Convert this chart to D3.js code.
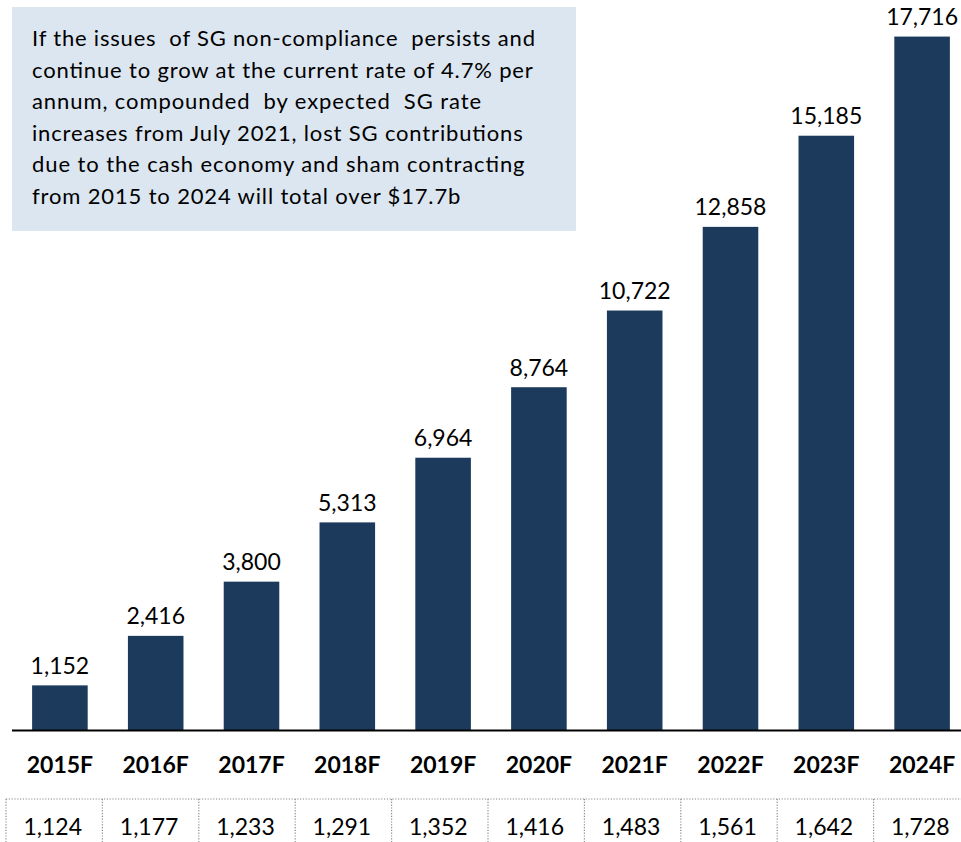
<!DOCTYPE html>
<html>
<head>
<meta charset="utf-8">
<script src="https://cdn.jsdelivr.net/npm/d3@7"></script>
<style>
  html, body { margin: 0; padding: 0; background: #fff; }
  svg { display: block; }
  text { font-family: Lato, "Open Sans", sans-serif; fill: #000; }
</style>
</head>
<body>
<svg id="chart" width="961" height="842"></svg>
<script>
const categories = ["2015F","2016F","2017F","2018F","2019F","2020F","2021F","2022F","2023F","2024F"];
const cumulativeValues = [1152, 2416, 3800, 5313, 6964, 8764, 10722, 12858, 15185, 17716];
const annualValues = [1124, 1177, 1233, 1291, 1352, 1416, 1483, 1561, 1642, 1728];
const noteLines = [
  "If the issues  of SG non-compliance  persists and",
  "continue to grow at the current rate of 4.7% per",
  "annum, compounded  by expected  SG rate",
  "increases from July 2021, lost SG contributions",
  "due to the cash economy and sham contracting",
  "from 2015 to 2024 will total over $17.7b"
];

const svg = d3.select("#chart");
const W = 961, H = 842;
const baseY = 730.5;
const fmt = d3.format(",");

const x = d3.scaleBand().domain(categories).range([12, 970]).paddingInner(0.42).paddingOuter(0.21);
const y = d3.scaleLinear().domain([0, 18650]).range([baseY, 0]);

// bars
svg.append("g").selectAll("rect").data(categories).join("rect")
  .attr("x", d => x(d))
  .attr("y", (d, i) => y(cumulativeValues[i]))
  .attr("width", x.bandwidth())
  .attr("height", (d, i) => baseY - y(cumulativeValues[i]))
  .attr("fill", "#1b3a5c");

// value labels
svg.append("g").selectAll("text").data(categories).join("text")
  .attr("x", d => x(d) + x.bandwidth() / 2)
  .attr("y", (d, i) => y(cumulativeValues[i]) - 11.5)
  .attr("text-anchor", "middle")
  .attr("font-size", 23)
  .text((d, i) => fmt(cumulativeValues[i]));

// baseline axis
svg.append("line")
  .attr("x1", 12).attr("x2", W)
  .attr("y1", baseY).attr("y2", baseY)
  .attr("stroke", "#000").attr("stroke-width", 2);

// category labels
svg.append("g").selectAll("text").data(categories).join("text")
  .attr("x", d => x(d) + x.bandwidth() / 2)
  .attr("y", 773)
  .attr("text-anchor", "middle")
  .attr("font-size", 23)
  .attr("font-weight", "bold")
  .text(d => d);

// table of annual values
const t = d3.scaleBand().domain(categories).range([6, 970]);
const tableTop = 799;
svg.append("line")
  .attr("x1", 6).attr("x2", W)
  .attr("y1", tableTop).attr("y2", tableTop)
  .attr("stroke", "#8a8a8a").attr("stroke-width", 1.2)
  .attr("stroke-dasharray", "1.2,1.6");
svg.append("g").selectAll("line").data(categories).join("line")
  .attr("x1", d => t(d)).attr("x2", d => t(d))
  .attr("y1", tableTop).attr("y2", H)
  .attr("stroke", "#8a8a8a").attr("stroke-width", 1.2)
  .attr("stroke-dasharray", "1.2,1.6");
svg.append("g").selectAll("text").data(categories).join("text")
  .attr("x", d => t(d) + t.bandwidth() / 2 - 1.5)
  .attr("y", 835)
  .attr("text-anchor", "middle")
  .attr("font-size", 23)
  .text((d, i) => fmt(annualValues[i]));

// note box
svg.append("rect")
  .attr("x", 12).attr("y", 7)
  .attr("width", 564).attr("height", 224)
  .attr("fill", "#dce6f0");
const noteText = svg.append("g").selectAll("text").data(noteLines).join("text")
  .attr("x", 32)
  .attr("y", (d, i) => 46 + i * 31.5)
  .attr("font-size", 22)
  .attr("xml:space", "preserve")
  .style("white-space", "pre")
  .text(d => d);
// stretch lines uniformly so the first line spans the reference width
const firstLen = noteText.nodes()[0].getComputedTextLength();
const stretch = 503 / firstLen;
noteText.each(function() {
  const len = this.getComputedTextLength();
  d3.select(this).attr("textLength", len * stretch).attr("lengthAdjust", "spacing");
});
</script>
</body>
</html>
